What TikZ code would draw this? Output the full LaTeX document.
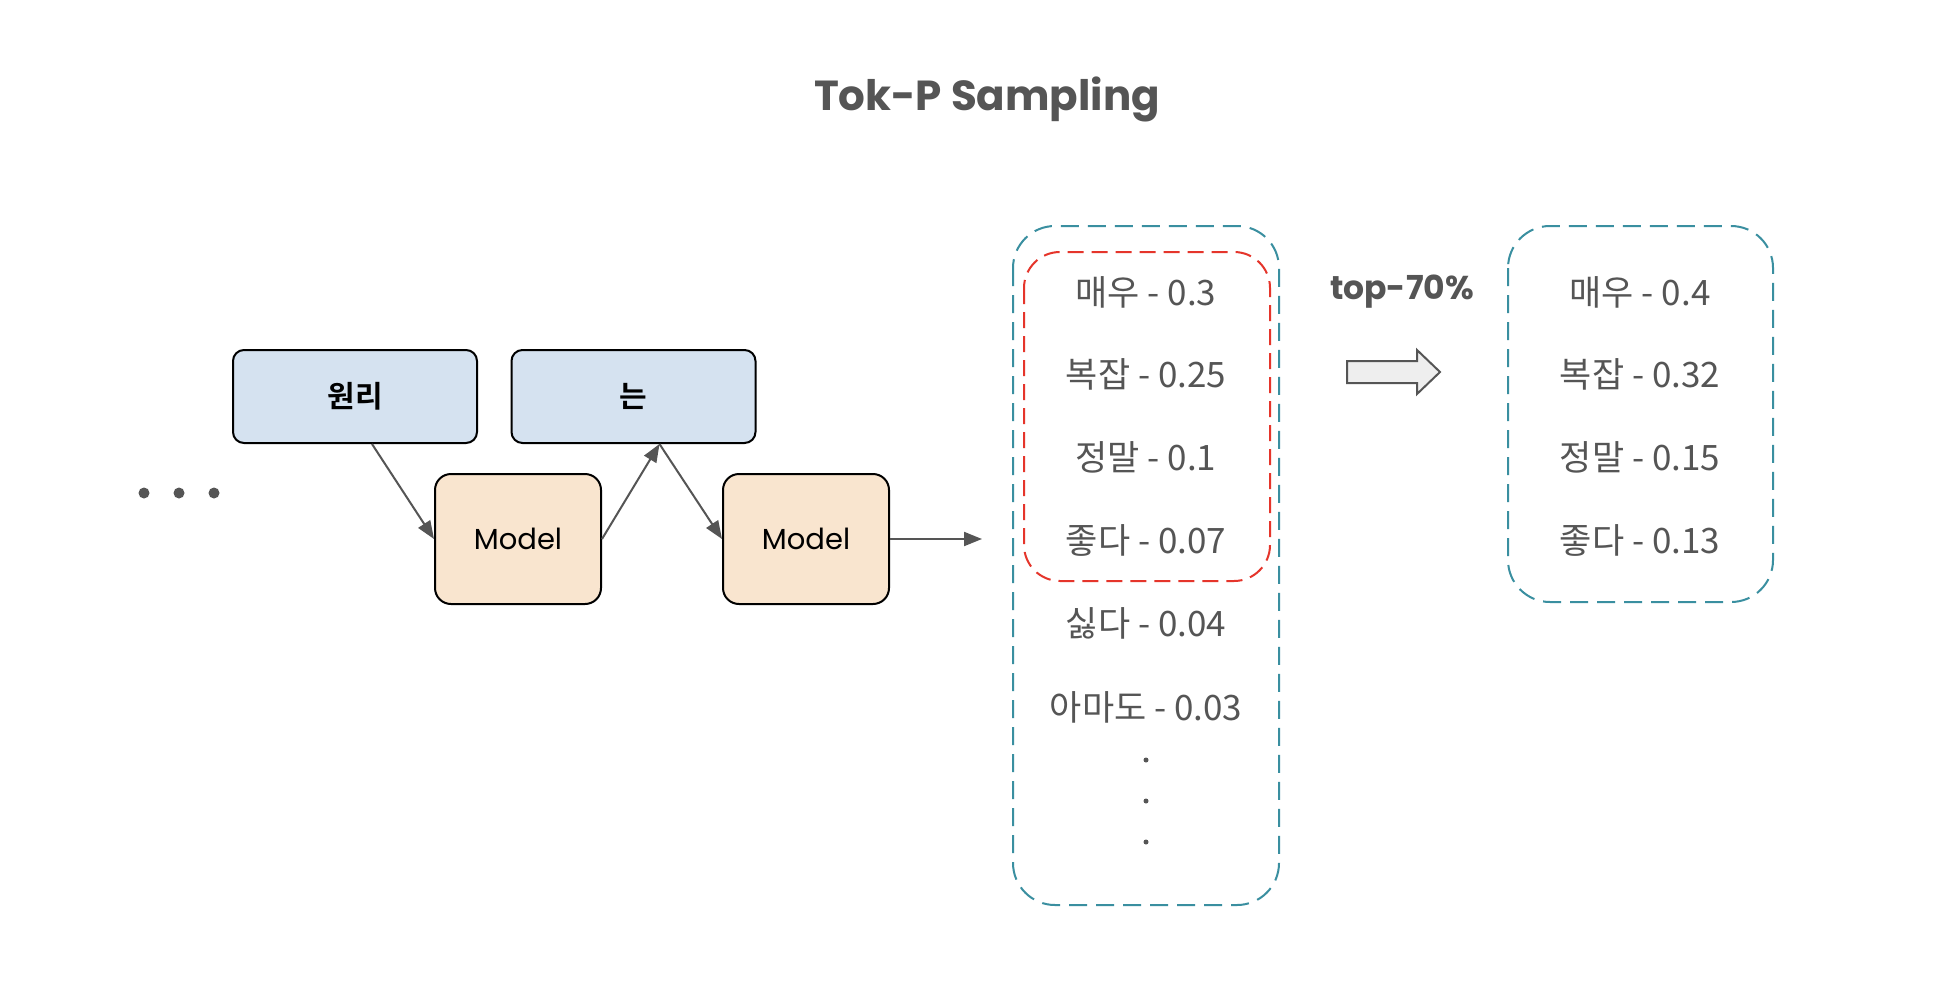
\documentclass[tikz,border=0pt]{standalone}
\usepackage{fontspec}
\newfontfamily\kr{Noto Sans CJK KR}
\newfontfamily\krb{Noto Sans CJK KR Bold}
\newfontfamily\comic{Poppins}
\usetikzlibrary{arrows.meta}
\definecolor{txtgray}{HTML}{555555}
\definecolor{bluefill}{HTML}{D5E2F0}
\definecolor{orangefill}{HTML}{F9E5CF}
\definecolor{tealline}{HTML}{3A8FA0}
\definecolor{redline}{HTML}{E5352B}
\definecolor{hollowfill}{HTML}{EEEEEE}
\tikzset{
  tokbox/.style={draw=black, line width=2pt, fill=bluefill, rounded corners=11pt,
    minimum width=244pt, minimum height=93pt, font=\krb\fontsize{30}{36}\selectfont},
  modelbox/.style={draw=black, line width=2pt, fill=orangefill, rounded corners=16pt,
    minimum width=166pt, minimum height=130pt, font=\comic\fontsize{29}{34}\selectfont},
  conn/.style={draw=txtgray, line width=2pt, -{Triangle[length=18pt,width=14pt]}},
  tealbox/.style={draw=tealline, line width=2pt, dash pattern=on 18pt off 9pt},
  redbox/.style={draw=redline, line width=2pt, dash pattern=on 16pt off 8pt},
  listtxt/.style={text=txtgray, font=\kr\fontsize{35}{42}\selectfont, inner sep=0pt},
  bigdot/.style={circle, fill=txtgray, inner sep=0pt, minimum size=11pt},
  smalldot/.style={circle, fill=txtgray, inner sep=0pt, minimum size=5pt},
}
\begin{document}
\begin{tikzpicture}[x=1pt,y=-1pt]
\fill[white] (0,0) rectangle (1958,982);
\useasboundingbox (0,0) rectangle (1958,982);

% title
\node[text=txtgray, font=\comic\bfseries\fontsize{42}{50}\selectfont] (title) at (987,99) {Tok-P Sampling};

% left chain
\node[bigdot] (d1) at (144,493) {};
\node[bigdot] (d2) at (179,493) {};
\node[bigdot] (d3) at (214,493) {};

\node[tokbox] (w1) at (355,396.5) {원리};
\node[tokbox] (w2) at (633.5,396.5) {는};
\node[modelbox] (m1) at (518,539) {Model};
\node[modelbox] (m2) at (806,539) {Model};
\coordinate (lend) at (982,539);

\draw[conn] ([xshift=17pt]w1.south) -- (m1.west);
\draw[conn] (m1.east) -- ([xshift=26pt]w2.south);
\draw[conn] ([xshift=26pt]w2.south) -- (m2.west);
\draw[conn] (m2.east) -- (lend);

% candidate list
\draw[tealbox, rounded corners=42pt] (1013,226) rectangle (1279,905);
\draw[redbox, rounded corners=36pt] (1024,252) rectangle (1270,581);

\node[listtxt] (a1) at (1146,292) {매우 - 0.3};
\node[listtxt] (a2) at (1146,374) {복잡 - 0.25};
\node[listtxt] (a3) at (1146,457) {정말 - 0.1};
\node[listtxt] (a4) at (1146,540) {좋다 - 0.07};
\node[listtxt] (a5) at (1146,623) {싫다 - 0.04};
\node[listtxt] (a6) at (1146,707) {아마도 - 0.03};
\node[smalldot] (e1) at (1146,760) {};
\node[smalldot] (e2) at (1146,801) {};
\node[smalldot] (e3) at (1146,842) {};

% hollow arrow and label
\node[text=txtgray, font=\comic\bfseries\fontsize{33}{40}\selectfont] (lbl) at (1402,292) {top-70\%};
\draw[draw=txtgray, fill=hollowfill, line width=2pt, line join=miter]
  (1347,361) -- (1417,361) -- (1417,350) -- (1440,372) -- (1417,394) -- (1417,383) -- (1347,383) -- cycle;

% renormalised list
\draw[tealbox, rounded corners=42pt] (1508,226) rectangle (1773,602);
\node[listtxt] (b1) at (1640,292) {매우 - 0.4};
\node[listtxt] (b2) at (1640,374) {복잡 - 0.32};
\node[listtxt] (b3) at (1640,457) {정말 - 0.15};
\node[listtxt] (b4) at (1640,540) {좋다 - 0.13};
\end{tikzpicture}
\end{document}
